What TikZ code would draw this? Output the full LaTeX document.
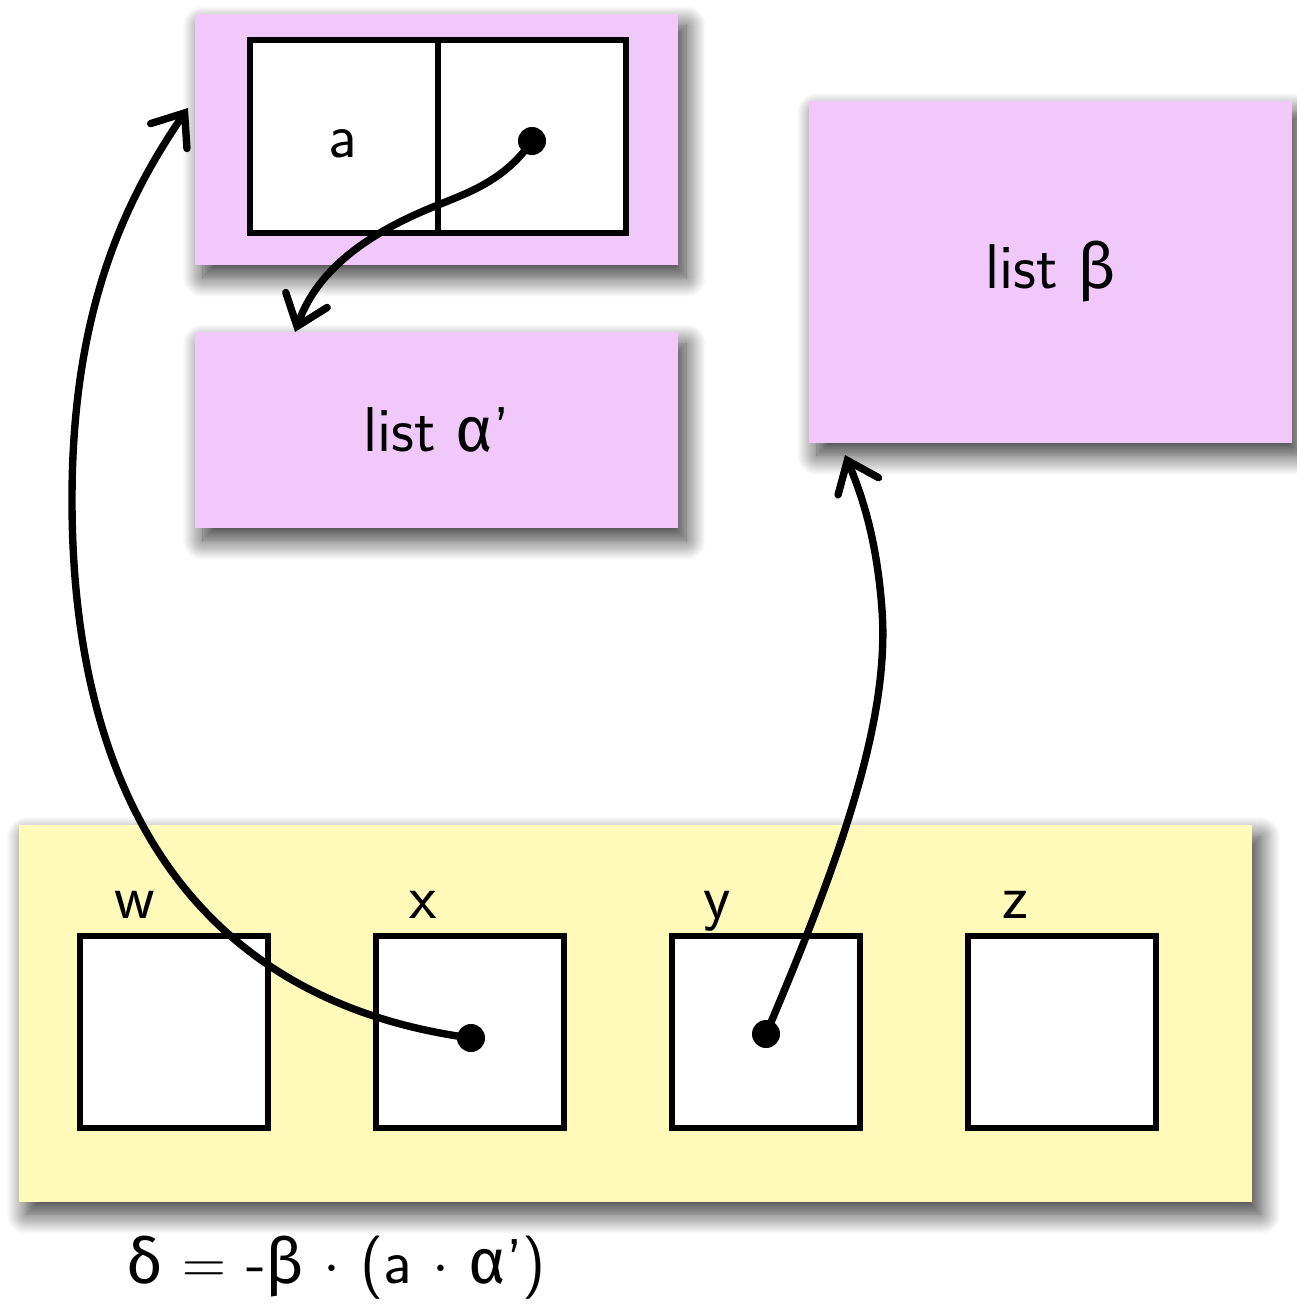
\documentclass[tikz,border=0pt]{standalone}
\usepackage{fontspec}
\newfontfamily\gr{Fira Sans}
\usetikzlibrary{arrows.meta,shadows.blur}
\definecolor{lilac}{RGB}{240,200,250}
\definecolor{paleyellow}{RGB}{255,250,186}
\begin{document}
\begin{tikzpicture}[x=0.01cm,y=-0.01cm,
  font=\sffamily\fontsize{18}{22}\selectfont,
  panel/.style={rectangle, fill=lilac, inner sep=0pt,
    blur shadow={shadow xshift=0.08cm, shadow yshift=-0.12cm, shadow blur radius=0.2cm,
      shadow blur steps=20, shadow opacity=80}},
  cellbox/.style={rectangle, draw, fill=white, line width=1.5pt, inner sep=0pt,
    minimum width=1.88cm, minimum height=1.93cm},
  dot/.style={circle, fill=black, inner sep=0pt, minimum size=0.28cm},
  link/.style={line width=2.1pt, line cap=round,
    -{Straight Barb[length=0.28cm,width=0.44cm,line cap=round]}},
  lbl/.style={anchor=base, inner sep=0pt}]
\useasboundingbox (0,0) rectangle (1297,1306);
% panels
\node[panel, minimum width=4.83cm, minimum height=2.51cm] (cons) at (436.5,139.5) {};
\node[panel, minimum width=4.83cm, minimum height=1.96cm] (alpha) at (436.5,430) {list {\gr α}’};
\node[panel, minimum width=4.83cm, minimum height=3.42cm] (beta) at (1050.5,272) {list {\gr β}};
\node[panel, fill=paleyellow, minimum width=12.33cm, minimum height=3.77cm] (frame) at (635.5,1013.5) {};
% cons cell
\node[cellbox] (car) at (344,136.5) {};
\node[cellbox] (cdr) at (532,136.5) {};
\node[lbl] (atext) at (343,157) {a};
% variable cells
\foreach \n/\x in {w/174, x/470, y/766, z/1062}
  \node[cellbox, minimum height=1.92cm] (\n) at (\x,1032) {};
\node[lbl] (lw) at (135,918) {w};
\node[lbl] (lx) at (423,918) {x};
\node[lbl] (ly) at (717,918) {y};
\node[lbl] (lz) at (1015,918) {z};
% dots
\node[dot] (pa) at (532,141) {};
\node[dot] (px) at (471,1038) {};
\node[dot] (py) at (766,1034) {};
% arrow ends
\coordinate (ta) at (295,332);
\coordinate (tc) at (188,108);
\coordinate (tb) at (845,455);
% connectors
\draw[link] (pa.center) .. controls (505,180) and (470,192) .. (438,205)
  .. controls (370,232) and (318,268) .. (ta);
\draw[link] (px.center) .. controls (190,1000) and (72,790) .. (72,500)
  .. controls (72,310) and (125,200) .. (tc);
\draw[link] (py.center) .. controls (840,860) and (890,720) .. (882,610)
  .. controls (877,540) and (862,495) .. (tb);
% formula
\node (formula) at (336,1268) {{\gr δ} $=$ -{\gr β} $\cdot$ (a $\cdot$ {\gr α}’)};
\end{tikzpicture}
\end{document}
